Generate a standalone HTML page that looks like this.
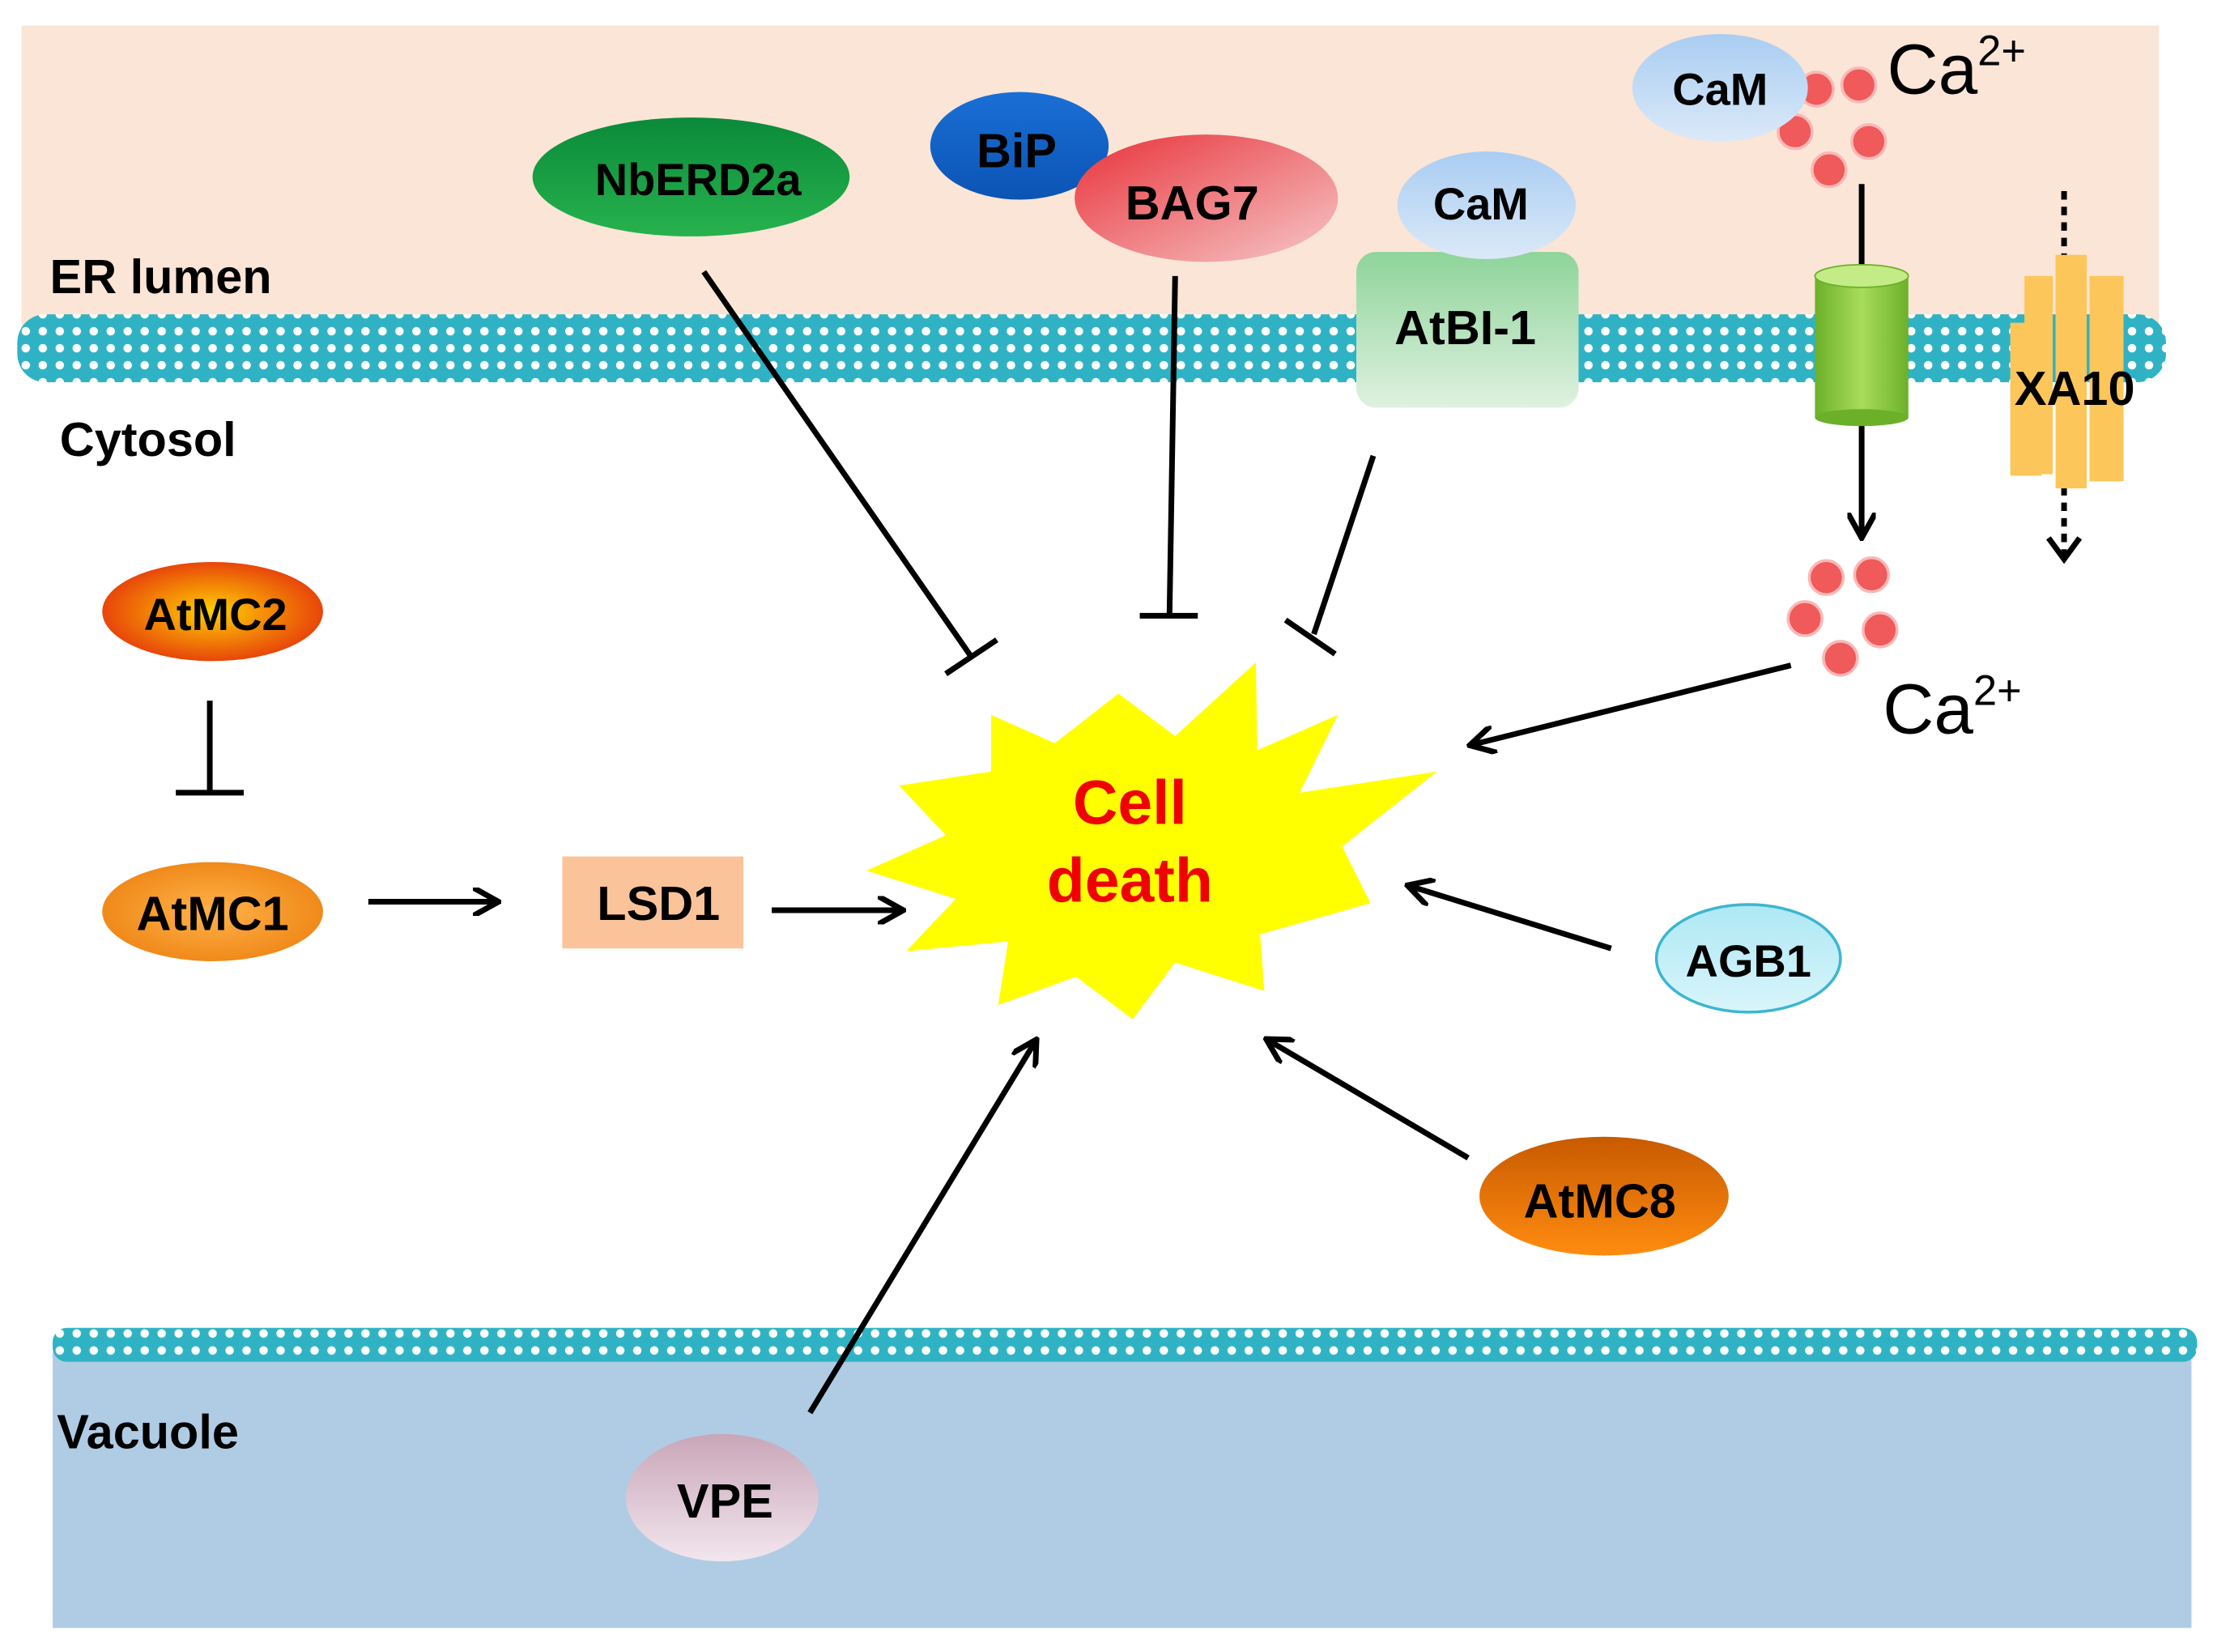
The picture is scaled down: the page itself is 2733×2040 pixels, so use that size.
<!DOCTYPE html>
<html><head><meta charset="utf-8"><style>
html,body{margin:0;padding:0;background:#fff}
svg{display:block}
text{font-family:"Liberation Sans",Arial,sans-serif;font-weight:bold}
</style></head><body>
<svg width="2733" height="2040" viewBox="0 0 1563 1167" xmlns="http://www.w3.org/2000/svg">
<defs>
<pattern id="mem" x="0" y="0" width="12" height="12" patternUnits="userSpaceOnUse">
<rect width="12" height="12" fill="#2fb3c4"/>
<circle cx="6" cy="6" r="3" fill="#ffffff"/>
</pattern>
<linearGradient id="gGreen" x1="0" y1="0" x2="0" y2="1"><stop offset="0" stop-color="#0a8a3a"/><stop offset="1" stop-color="#27b24e"/></linearGradient>
<linearGradient id="gBlue" x1="0" y1="0" x2="0" y2="1"><stop offset="0" stop-color="#1a6fd6"/><stop offset="1" stop-color="#0b54b4"/></linearGradient>
<linearGradient id="gRed" x1="0" y1="0" x2="1" y2="1"><stop offset="0" stop-color="#e8323a"/><stop offset="1" stop-color="#f6c8c8"/></linearGradient>
<linearGradient id="gCam" x1="0" y1="0" x2="0" y2="1"><stop offset="0" stop-color="#a9cdf2"/><stop offset="1" stop-color="#dbe9f8"/></linearGradient>
<linearGradient id="gBI" x1="0" y1="0" x2="0" y2="1"><stop offset="0" stop-color="#8ed49a"/><stop offset="1" stop-color="#dff1e0"/></linearGradient>
<linearGradient id="gCyl" x1="0" y1="0" x2="1" y2="0"><stop offset="0" stop-color="#6cb02a"/><stop offset="0.5" stop-color="#a8dc5a"/><stop offset="1" stop-color="#6cb02a"/></linearGradient>
<radialGradient id="gMC2"><stop offset="0" stop-color="#ffd000"/><stop offset="1" stop-color="#e8460a"/></radialGradient>
<radialGradient id="gMC1"><stop offset="0" stop-color="#ffb24a"/><stop offset="1" stop-color="#f08a1a"/></radialGradient>
<linearGradient id="gMC8" x1="0" y1="0" x2="0" y2="1"><stop offset="0" stop-color="#c85a00"/><stop offset="1" stop-color="#ff8c10"/></linearGradient>
<linearGradient id="gAGB" x1="0" y1="0" x2="0" y2="1"><stop offset="0" stop-color="#aee8f4"/><stop offset="1" stop-color="#d9f5fb"/></linearGradient>
<linearGradient id="gVPE" x1="0" y1="0" x2="0" y2="1"><stop offset="0" stop-color="#c9a6b8"/><stop offset="1" stop-color="#f2e6ee"/></linearGradient>
<marker id="ah" viewBox="0 0 10 10" refX="8" refY="5" markerWidth="5" markerHeight="5" orient="auto"><path d="M0,0 L9,5 L0,10" fill="none" stroke="#000" stroke-width="2"/></marker>
</defs>

<rect x="15" y="18" width="1510" height="220" fill="#fbe5d6"/>
<rect x="12" y="222" width="1518" height="48" fill="url(#mem)" rx="20"/>
<rect x="37" y="955" width="1511" height="195" fill="#b0cce4"/>
<rect x="37" y="938" width="1515" height="24" fill="url(#mem)" rx="10"/>

<text x="35" y="207" font-size="34">ER lumen</text>
<text x="42" y="322" font-size="34">Cytosol</text>
<text x="40" y="1023" font-size="34">Vacuole</text>

<g stroke="#000" stroke-width="4" fill="none">
<line x1="497" y1="192" x2="686" y2="464"/><line x1="668" y1="476" x2="704" y2="452"/>
<line x1="830" y1="195" x2="826" y2="435"/><line x1="805" y1="435" x2="846" y2="435"/>
<line x1="970" y1="322" x2="928" y2="448"/><line x1="908" y1="438" x2="943" y2="462"/>
<line x1="148" y1="495" x2="148" y2="560"/><line x1="124" y1="560" x2="172" y2="560"/>
<line x1="260" y1="637" x2="350" y2="637" marker-end="url(#ah)"/>
<line x1="545" y1="643" x2="636" y2="643" marker-end="url(#ah)"/>
<line x1="1265" y1="470" x2="1040" y2="526" marker-end="url(#ah)"/>
<line x1="1138" y1="670" x2="996" y2="626" marker-end="url(#ah)"/>
<line x1="1037" y1="818" x2="896" y2="735" marker-end="url(#ah)"/>
<line x1="572" y1="998" x2="731" y2="736" marker-end="url(#ah)"/>
<line x1="1315" y1="130" x2="1315" y2="192"/>
<line x1="1315" y1="298" x2="1315" y2="378" marker-end="url(#ah)"/>
</g>

<line x1="1458" y1="135" x2="1458" y2="392" stroke="#000" stroke-width="4" stroke-dasharray="6,5"/>
<path d="M1447,380 L1458,395 L1469,380" fill="none" stroke="#000" stroke-width="4"/>
<g fill="#fcc65a">
<rect x="1430" y="195" width="20" height="140"/>
<rect x="1452" y="180" width="22" height="165"/>
<rect x="1476" y="195" width="24" height="145"/>
<rect x="1420" y="228" width="22" height="108"/>
</g>
<text x="1423" y="286" font-size="34">XA10</text>

<rect x="1282" y="195" width="66" height="100" fill="url(#gCyl)"/>
<ellipse cx="1315" cy="195" rx="33" ry="8" fill="#c4ec86" stroke="#6cb02a"/>
<ellipse cx="1315" cy="295" rx="33" ry="6" fill="#6cb02a"/>

<g fill="#f05a5a" stroke="#f8b8b8" stroke-width="2">
<circle cx="1283" cy="63" r="12"/><circle cx="1313" cy="60" r="12"/><circle cx="1268" cy="93" r="12"/><circle cx="1320" cy="100" r="12"/><circle cx="1292" cy="120" r="12"/>
<circle cx="1290" cy="408" r="12"/><circle cx="1322" cy="406" r="12"/><circle cx="1275" cy="437" r="12"/><circle cx="1328" cy="445" r="12"/><circle cx="1300" cy="465" r="12"/>
</g>
<text x="1333" y="66" font-size="50" style="font-weight:normal">Ca<tspan font-size="30" dy="-20">2+</tspan></text>
<text x="1330" y="518" font-size="50" style="font-weight:normal">Ca<tspan font-size="30" dy="-20">2+</tspan></text>

<ellipse cx="488" cy="125" rx="112" ry="42" fill="url(#gGreen)"/>
<text x="493" y="138" font-size="32" text-anchor="middle">NbERD2a</text>
<ellipse cx="720" cy="103" rx="63" ry="38" fill="url(#gBlue)"/>
<text x="718" y="118" font-size="34" text-anchor="middle">BiP</text>
<ellipse cx="852" cy="140" rx="93" ry="45" fill="url(#gRed)"/>
<text x="842" y="155" font-size="34" text-anchor="middle">BAG7</text>
<rect x="958" y="178" width="157" height="110" rx="14" fill="url(#gBI)"/>
<text x="1035" y="243" font-size="34" text-anchor="middle">AtBI-1</text>
<ellipse cx="1050" cy="145" rx="63" ry="38" fill="url(#gCam)"/>
<text x="1046" y="155" font-size="32" text-anchor="middle">CaM</text>
<ellipse cx="1215" cy="62" rx="62" ry="38" fill="url(#gCam)"/>
<text x="1215" y="74" font-size="32" text-anchor="middle">CaM</text>

<ellipse cx="150" cy="432" rx="78" ry="35" fill="url(#gMC2)"/>
<text x="152" y="445" font-size="32" text-anchor="middle">AtMC2</text>
<ellipse cx="150" cy="644" rx="78" ry="35" fill="url(#gMC1)"/>
<text x="150" y="657" font-size="34" text-anchor="middle">AtMC1</text>
<rect x="397" y="605" width="128" height="65" fill="#fbc39a"/>
<text x="465" y="650" font-size="34" text-anchor="middle">LSD1</text>
<ellipse cx="1235" cy="677" rx="65" ry="38" fill="url(#gAGB)" stroke="#3cb6d0" stroke-width="2"/>
<text x="1235" y="690" font-size="32" text-anchor="middle">AGB1</text>
<ellipse cx="1133" cy="845" rx="88" ry="42" fill="url(#gMC8)"/>
<text x="1130" y="860" font-size="34" text-anchor="middle">AtMC8</text>
<ellipse cx="510" cy="1058" rx="68" ry="45" fill="url(#gVPE)"/>
<text x="512" y="1072" font-size="34" text-anchor="middle">VPE</text>

<polygon points="700,505 745,525 790,490 830,520 887,468 888,530 945,505 918,560 1015,545 948,598 968,638 890,660 893,700 830,680 800,720 760,690 705,710 712,665 640,672 675,635 612,615 668,590 635,555 700,545" fill="#ffff00"/>
<text x="798" y="582" font-size="44" fill="#f00000" text-anchor="middle">Cell</text>
<text x="798" y="637" font-size="44" fill="#f00000" text-anchor="middle">death</text>
</svg>
</body></html>
